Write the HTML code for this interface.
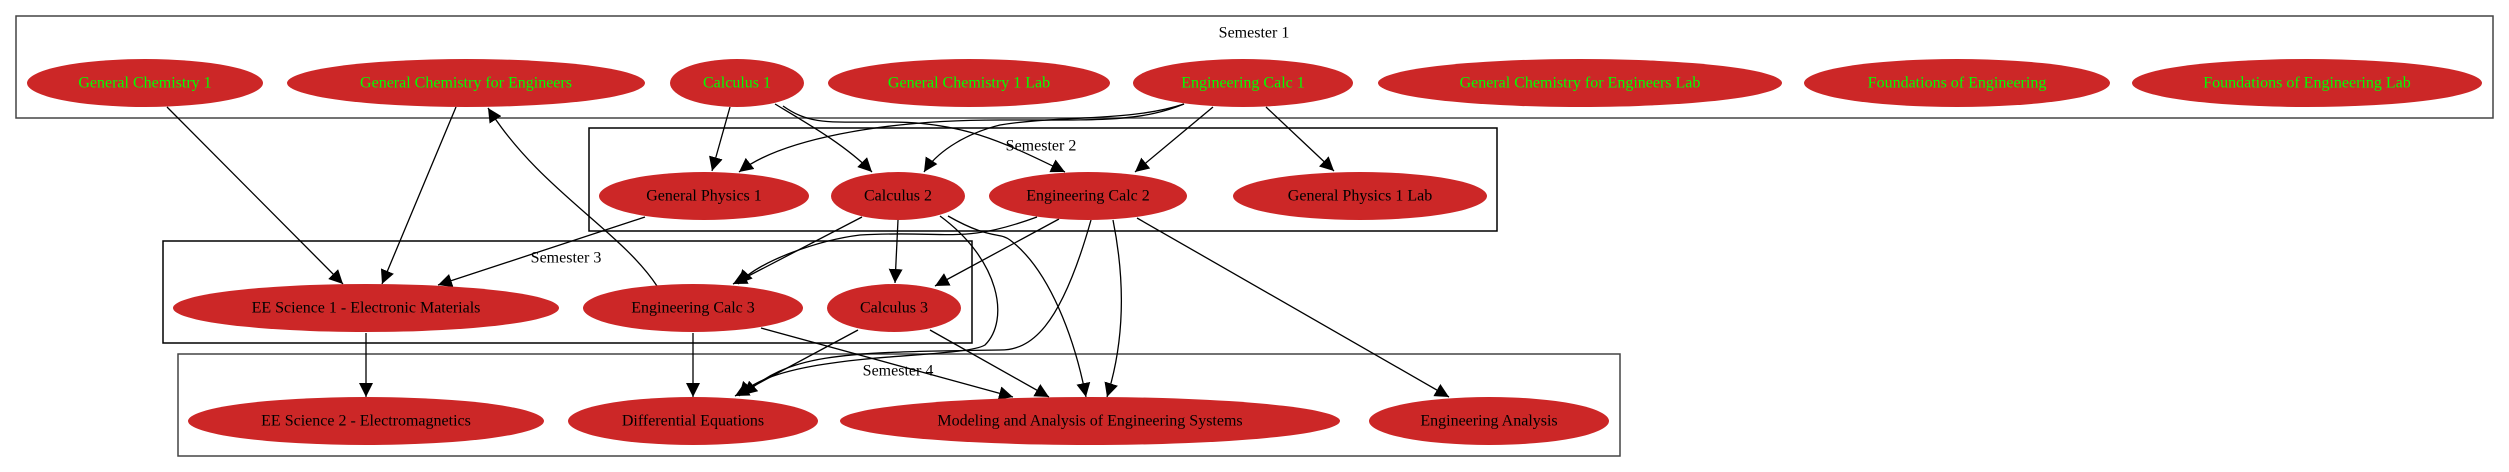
<!DOCTYPE html>
<html><head><meta charset="utf-8"><style>
html,body{margin:0;padding:0;background:#fff;}
svg{display:block;}
text{font-family:"Liberation Serif",serif;font-size:16px;text-anchor:middle;dominant-baseline:central;}
.g{fill:#00ff00}
.b{fill:#000}
ellipse{fill:#cc2727;}
.cl{fill:none;stroke:#444;stroke-width:1.5;}
.cb{fill:none;stroke:#000;stroke-width:1.5;}
.e{fill:none;stroke:#000;stroke-width:1.3;marker-end:url(#ah);}
</style></head><body>
<svg width="2509" height="472" viewBox="0 0 2509 472" xmlns="http://www.w3.org/2000/svg">
<defs><marker id="ah" viewBox="0 0 10 10" refX="10" refY="5" markerWidth="14" markerHeight="14" markerUnits="userSpaceOnUse" orient="auto"><path d="M0,0 L10,5 L0,10 z" fill="#000"/></marker></defs>
<rect class="cl" x="16" y="16" width="2477" height="102"/>
<text class="b" x="1254" y="33">Semester 1</text>
<rect class="cb" x="589" y="128" width="908" height="103"/>
<text class="b" x="1041" y="146">Semester 2</text>
<rect class="cb" x="163" y="241" width="809" height="102"/>
<text class="b" x="566" y="258">Semester 3</text>
<rect class="cl" x="178" y="354" width="1442" height="102"/>
<text class="b" x="898" y="371">Semester 4</text>

<!-- edges -->
<path class="e" d="M167,107 L343,284"/>
<path class="e" d="M456,107 L382,284"/>
<path class="e" d="M657,286 C620,230 540,190 488,108"/>
<path class="e" d="M730,107 L712,171"/>
<path class="e" d="M775,104 C810,125 845,145 872,172"/>
<path class="e" d="M783,106 C810,125 828,122 890,122 C960,122 1000,140 1065,172"/>
<path class="e" d="M1184,104 C1140,122 1100,120 1000,120 C880,120 780,140 739,172"/>
<path class="e" d="M1184,104 C1130,122 1060,115 1000,125 C960,135 935,155 924,172"/>
<path class="e" d="M1213,107 L1135,172"/>
<path class="e" d="M1266,107 L1334,171"/>
<path class="e" d="M645,217 L438,285"/>
<path class="e" d="M862,217 L733,284"/>
<path class="e" d="M898,220 L895,283"/>
<path class="e" d="M940,216 C1000,260 1010,320 985,345 C960,360 780,350 739,396"/>
<path class="e" d="M948,216 C990,240 1000,232 1010,240 C1050,270 1075,340 1086,397"/>
<path class="e" d="M1037,217 C960,245 950,230 860,235 C820,240 760,260 738,284"/>
<path class="e" d="M1059,219 L935,286"/>
<path class="e" d="M1091,220 C1060,330 1030,350 1000,350 C830,352 790,355 743,395"/>
<path class="e" d="M1113,220 C1125,280 1125,340 1107,397"/>
<path class="e" d="M1137,218 L1449,397"/>
<path class="e" d="M366,333 L366,397"/>
<path class="e" d="M693,333 L693,397"/>
<path class="e" d="M761,328 L1013,397"/>
<path class="e" d="M858,330 L735,396"/>
<path class="e" d="M930,330 L1049,397"/>

<!-- nodes -->
<ellipse cx="145" cy="83" rx="118" ry="24"/><text class="g" x="145" y="83">General Chemistry 1</text>
<ellipse cx="466" cy="83" rx="179" ry="24"/><text class="g" x="466" y="83">General Chemistry for Engineers</text>
<ellipse cx="737" cy="83" rx="67" ry="24"/><text class="g" x="737" y="83">Calculus 1</text>
<ellipse cx="969" cy="83" rx="141" ry="24"/><text class="g" x="969" y="83">General Chemistry 1 Lab</text>
<ellipse cx="1243" cy="83" rx="110" ry="24"/><text class="g" x="1243" y="83">Engineering Calc 1</text>
<ellipse cx="1580" cy="83" rx="202" ry="24"/><text class="g" x="1580" y="83">General Chemistry for Engineers Lab</text>
<ellipse cx="1957" cy="83" rx="153" ry="24"/><text class="g" x="1957" y="83">Foundations of Engineering</text>
<ellipse cx="2307" cy="83" rx="175" ry="24"/><text class="g" x="2307" y="83">Foundations of Engineering Lab</text>

<ellipse cx="704" cy="196" rx="105" ry="24"/><text class="b" x="704" y="196">General Physics 1</text>
<ellipse cx="898" cy="196" rx="67" ry="24"/><text class="b" x="898" y="196">Calculus 2</text>
<ellipse cx="1088" cy="196" rx="99" ry="24"/><text class="b" x="1088" y="196">Engineering Calc 2</text>
<ellipse cx="1360" cy="196" rx="127" ry="24"/><text class="b" x="1360" y="196">General Physics 1 Lab</text>

<ellipse cx="366" cy="308" rx="193" ry="24"/><text class="b" x="366" y="308">EE Science 1 - Electronic Materials</text>
<ellipse cx="693" cy="308" rx="110" ry="24"/><text class="b" x="693" y="308">Engineering Calc 3</text>
<ellipse cx="894" cy="308" rx="67" ry="24"/><text class="b" x="894" y="308">Calculus 3</text>

<ellipse cx="366" cy="421" rx="178" ry="24"/><text class="b" x="366" y="421">EE Science 2 - Electromagnetics</text>
<ellipse cx="693" cy="421" rx="125" ry="24"/><text class="b" x="693" y="421">Differential Equations</text>
<ellipse cx="1090" cy="421" rx="250" ry="24"/><text class="b" x="1090" y="421">Modeling and Analysis of Engineering Systems</text>
<ellipse cx="1489" cy="421" rx="120" ry="24"/><text class="b" x="1489" y="421">Engineering Analysis</text>
</svg>
</body></html>
